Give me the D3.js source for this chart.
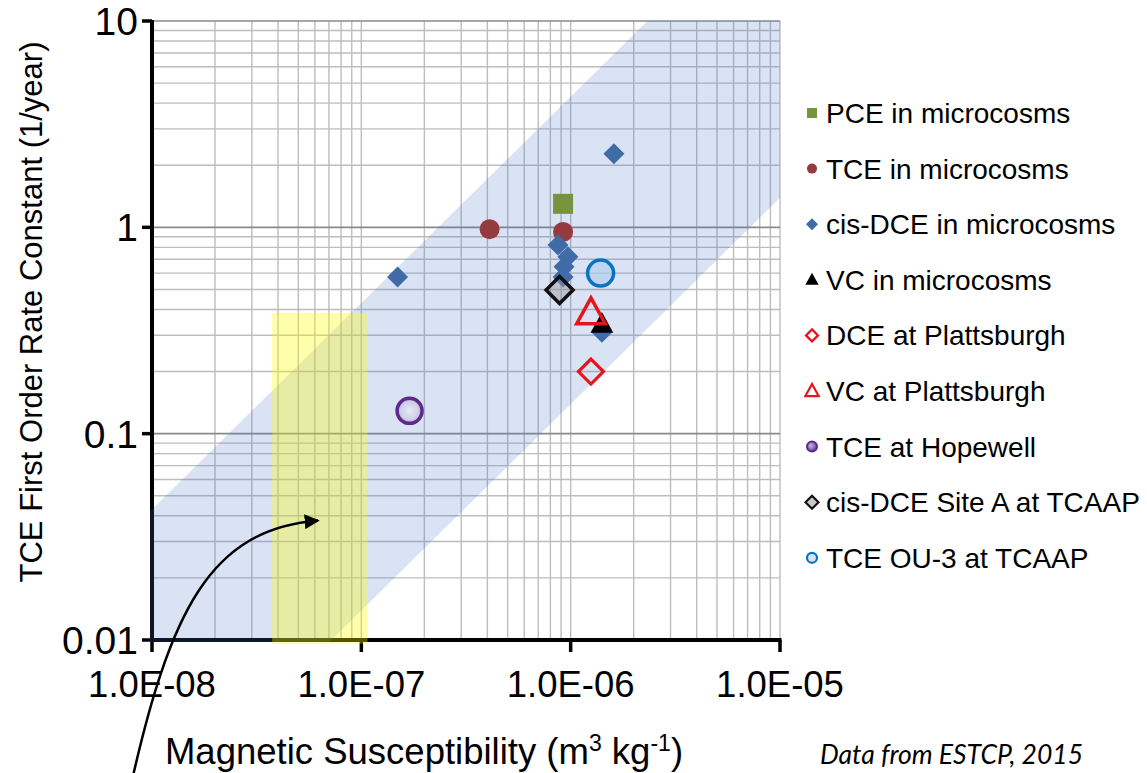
<!DOCTYPE html>
<html><head><meta charset="utf-8">
<script src="https://cdn.jsdelivr.net/npm/d3@7"></script>
<style>html,body{margin:0;padding:0;background:#fff;}svg{display:block;font-family:"Liberation Sans",Arial,sans-serif;}</style>
</head><body>
<svg id="c" width="1147" height="773"></svg>
<script>
// ---- data ----
const xTicks = [1e-8, 1e-7, 1e-6, 1e-5];
const xTickLabels = ["1.0E-08", "1.0E-07", "1.0E-06", "1.0E-05"];
const yTicks = [0.01, 0.1, 1, 10];
const yTickLabels = ["0.01", "0.1", "1", "10"];

const pceX = [9.2e-7];            const pceY = [1.30];
const tceX = [4.1e-7, 9.2e-7];    const tceY = [0.98, 0.95];
const cisX = [1.61e-6, 1.49e-7, 8.7e-7, 9.7e-7, 9.3e-7, 9.2e-7, 1.41e-6];
const cisY = [2.27, 0.575, 0.82, 0.72, 0.645, 0.575, 0.31];
const vcX = [1.41e-6];            const vcY = [0.34];
const dcePlX = [1.25e-6];         const dcePlY = [0.20];
const vcPlX = [1.25e-6];          const vcPlY = [0.385];
const hopX = [1.70e-7];           const hopY = [0.129];
const siteAX = [8.85e-7];         const siteAY = [0.497];
const ou3X = [1.39e-6];           const ou3Y = [0.60];

const seriesNames = ["PCE in microcosms","TCE in microcosms","cis-DCE in microcosms","VC in microcosms",
  "DCE at Plattsburgh","VC at Plattsburgh","TCE at Hopewell","cis-DCE Site A at TCAAP","TCE OU-3 at TCAAP"];

// band: k proportional to susceptibility (slope 1 on log-log)
const bandUpperX = [1e-9, 1e-4];  const bandUpperY = [0.0043, 430];
const bandLowerX = [1e-4, 1e-9];  const bandLowerY = [13.9, 0.000139];
// yellow range
const yellowX = [3.75e-8, 1.07e-7]; const yellowY = [0.0096, 0.385];
// arrow annotation (data coords: start, control 1, control 2, end)
const arrowX = [7.85e-9, 1.22e-8, 1.90e-8, 6.22e-8];
const arrowY = [0.00189, 0.0141, 0.0343, 0.0379];

// ---- layout ----
const svg = d3.select("#c");
const x = d3.scaleLog().domain([1e-8, 1e-5]).range([152, 780]);
const y = d3.scaleLog().domain([0.01, 10]).range([640, 21]);

// grid
const gx = [], gy = [];
for (let e = -8; e < -5; e++) for (let m = 2; m <= 9; m++) gx.push(m * Math.pow(10, e));
gx.push(1e-7, 1e-6, 1e-5);
for (let e = -2; e < 1; e++) for (let m = 2; m <= 9; m++) gy.push(+(m * Math.pow(10, e)).toPrecision(3));
const g = svg.append("g");
g.selectAll(".vx").data(gx).join("line")
  .attr("x1", d => x(d)).attr("x2", d => x(d)).attr("y1", y(10)).attr("y2", y(0.01))
  .attr("stroke", "#bdbdbd").attr("stroke-width", 1.4);
g.selectAll(".hy").data(gy).join("line")
  .attr("x1", x(1e-8)).attr("x2", x(1e-5)).attr("y1", d => y(d)).attr("y2", d => y(d))
  .attr("stroke", "#bdbdbd").attr("stroke-width", 1.4);
g.selectAll(".hm").data([0.1, 1, 10]).join("line")
  .attr("x1", x(1e-8)).attr("x2", x(1e-5)).attr("y1", d => y(d)).attr("y2", d => y(d))
  .attr("stroke", "#8a8a8a").attr("stroke-width", 1.6);

// axes lines
svg.append("line").attr("x1", x(1e-8)).attr("x2", x(1e-8)).attr("y1", y(10) - 1).attr("y2", y(0.01) + 2)
  .attr("stroke", "#000").attr("stroke-width", 4);
svg.append("line").attr("x1", x(1e-8) - 2).attr("x2", x(1e-5) + 1.5).attr("y1", y(0.01)).attr("y2", y(0.01))
  .attr("stroke", "#000").attr("stroke-width", 4);
svg.selectAll(".yt").data(yTicks).join("line")
  .attr("x1", x(1e-8) - 10).attr("x2", x(1e-8)).attr("y1", d => y(d)).attr("y2", d => y(d))
  .attr("stroke", "#000").attr("stroke-width", 3.5);
svg.selectAll(".xt").data(xTicks).join("line")
  .attr("x1", d => x(d)).attr("x2", d => x(d)).attr("y1", y(0.01)).attr("y2", y(0.01) + 12)
  .attr("stroke", "#000").attr("stroke-width", 3.5);

// band
svg.append("clipPath").attr("id", "clip").append("rect")
  .attr("x", x(1e-8) - 2).attr("y", y(10)).attr("width", x(1e-5) - x(1e-8) + 2).attr("height", y(0.01) - y(10) + 2);
const bandPts = bandUpperX.map((d, i) => [x(d), y(bandUpperY[i])])
  .concat(bandLowerX.map((d, i) => [x(d), y(bandLowerY[i])]));
svg.append("path").attr("clip-path", "url(#clip)")
  .attr("d", d3.line()(bandPts) + "Z").attr("fill", "rgba(68,114,196,0.2)");

// yellow
svg.append("rect").attr("x", x(yellowX[0])).attr("width", x(yellowX[1]) - x(yellowX[0]))
  .attr("y", y(yellowY[1])).attr("height", y(yellowY[0]) - y(yellowY[1]))
  .attr("fill", "rgba(255,255,0,0.33)");

// tick labels
svg.selectAll(".yl").data(yTicks).join("text")
  .attr("x", 138).attr("y", d => y(d)).attr("dy", "0.36em").attr("text-anchor", "end")
  .attr("font-size", 39).attr("fill", "#000").text((d, i) => yTickLabels[i]);
svg.selectAll(".xl").data(xTicks).join("text")
  .attr("x", d => x(d)).attr("y", 697).attr("text-anchor", "middle")
  .attr("font-size", 36.5).attr("fill", "#000").text((d, i) => xTickLabels[i]);

// titles
const xt = svg.append("text").attr("x", 424).attr("y", 764).attr("text-anchor", "middle")
  .attr("font-size", 36.5).attr("fill", "#000");
xt.append("tspan").text("Magnetic Susceptibility (m");
xt.append("tspan").attr("font-size", 23).attr("dy", -13).text("3");
xt.append("tspan").attr("dy", 13).text(" kg");
xt.append("tspan").attr("font-size", 23).attr("dy", -13).text("-1");
xt.append("tspan").attr("dy", 13).text(")");
svg.append("text").attr("transform", "translate(42,312) rotate(-90)").attr("text-anchor", "middle")
  .attr("font-size", 31).attr("fill", "#000").text("TCE First Order Rate Constant (1/year)");
svg.append("text").attr("x", 820).attr("y", 764).attr("font-size", 26.5).attr("font-style", "italic")
  .attr("font-family", "Lato, 'Open Sans', sans-serif").attr("fill", "#000").text("Data from ESTCP, 2015");

// defs
const defs = svg.append("defs");
const rg = defs.append("radialGradient").attr("id", "hop").attr("cx", "50%").attr("cy", "50%").attr("r", "55%");
rg.append("stop").attr("offset", "0%").attr("stop-color", "#e8e8f4");
rg.append("stop").attr("offset", "65%").attr("stop-color", "#cfd0e6");
rg.append("stop").attr("offset", "100%").attr("stop-color", "#9f90c4");
const rg2 = defs.append("radialGradient").attr("id", "hopL").attr("cx", "40%").attr("cy", "40%").attr("r", "60%");
rg2.append("stop").attr("offset", "0%").attr("stop-color", "#c8b6e2");
rg2.append("stop").attr("offset", "100%").attr("stop-color", "#6a3a9c");
const ah = defs.append("marker").attr("id", "ah").attr("viewBox", "0 0 10 10").attr("refX", 9).attr("refY", 5)
  .attr("markerWidth", 6).attr("markerHeight", 6).attr("markerUnits", "strokeWidth").attr("orient", "auto");
ah.append("path").attr("d", "M0,0 L10,5 L0,10 Z").attr("fill", "#000");

// symbol helpers
const sym = (type, size) => d3.symbol().type(type).size(size)();
const diamond = r => `M0,${-r}L${r},0L0,${r}L${-r},0Z`;
const tri = r => `M0,${-r}L${r * 0.95},${r * 0.72}L${-r * 0.95},${r * 0.72}Z`;

function pts(xs, ys) { return xs.map((d, i) => ({ x: d, y: ys[i] })); }
function draw(data, path, attrs) {
  const s = svg.append("g").selectAll("path").data(data).join("path")
    .attr("transform", d => `translate(${x(d.x)},${y(d.y)})`).attr("d", path);
  for (const k in attrs) s.attr(k, attrs[k]);
}
draw(pts(pceX, pceY), `M-10,-10H10V10H-10Z`, { fill: "#77933c" });
draw(pts(tceX, tceY), sym(d3.symbolCircle, Math.PI * 100), { fill: "#943b3f" });
draw(pts(cisX, cisY), diamond(10.5), { fill: "#3f6ca6" });
draw(pts(vcX, vcY), tri(12), { fill: "#000" });
draw(pts(dcePlX, dcePlY), diamond(12.5), { fill: "none", stroke: "#e8141c", "stroke-width": 3.2 });
draw(pts(vcPlX, vcPlY), tri(15), { fill: "none", stroke: "#e8141c", "stroke-width": 3.5, "stroke-linejoin": "miter" });
draw(pts(hopX, hopY), sym(d3.symbolCircle, Math.PI * 12.5 * 12.5), { fill: "url(#hop)", stroke: "#5b2a8c", "stroke-width": 3.5 });
draw(pts(siteAX, siteAY), diamond(13.5), { fill: "rgba(150,150,160,0.45)", stroke: "#111", "stroke-width": 3.5 });
draw(pts(ou3X, ou3Y), sym(d3.symbolCircle, Math.PI * 13 * 13), { fill: "rgba(180,205,235,0.7)", stroke: "#0a72c2", "stroke-width": 3.5 });

// arrow
const ap = arrowX.map((d, i) => [x(d), y(arrowY[i])]);
svg.append("path")
  .attr("d", `M${ap[0]}C${ap[1]} ${ap[2]} ${ap[3]}`)
  .attr("fill", "none").attr("stroke", "#000").attr("stroke-width", 2.5).attr("marker-end", "url(#ah)");

// legend
const legY0 = 113, legDy = 55.6, legMX = 812, legTX = 826;
const legShapes = [
  { d: "M-5,-5H5V5H-5Z", fill: "#77933c" },
  { d: sym(d3.symbolCircle, Math.PI * 25), fill: "#943b3f" },
  { d: diamond(6), fill: "#3f6ca6" },
  { d: tri(7), fill: "#000" },
  { d: diamond(6), fill: "none", stroke: "#e8141c", sw: 2.2 },
  { d: tri(7), fill: "none", stroke: "#e8141c", sw: 2.2 },
  { d: sym(d3.symbolCircle, Math.PI * 25), fill: "url(#hopL)", stroke: "#5b2a8c", sw: 2 },
  { d: diamond(6.5), fill: "#c8c8c8", stroke: "#111", sw: 2.2 },
  { d: sym(d3.symbolCircle, Math.PI * 25), fill: "#d3e3f3", stroke: "#0a72c2", sw: 2.2 }
];
const lg = svg.append("g").selectAll("g").data(seriesNames).join("g")
  .attr("transform", (d, i) => `translate(0,${legY0 + i * legDy})`);
lg.append("path").attr("transform", `translate(${legMX},0)`).attr("d", (d, i) => legShapes[i].d)
  .attr("fill", (d, i) => legShapes[i].fill).attr("stroke", (d, i) => legShapes[i].stroke || "none")
  .attr("stroke-width", (d, i) => legShapes[i].sw || 0);
lg.append("text").attr("x", legTX).attr("dy", "0.36em").attr("font-size", 28).attr("fill", "#000").text(d => d);
</script>
</body></html>
